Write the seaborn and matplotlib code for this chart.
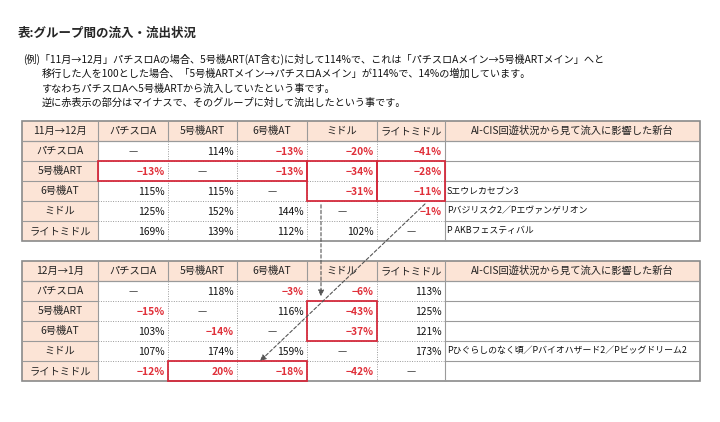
import matplotlib
matplotlib.use("Agg")
import matplotlib.pyplot as plt
import seaborn as sns
from matplotlib.patches import Rectangle

sns.set_theme(style="white")
plt.rcParams["font.family"] = ["Noto Sans CJK JP", "DejaVu Sans"]

title = "表:グループ間の流入・流出状況"
note_lines = [
    "(例)「11月→12月」パチスロAの場合、5号機ART(AT含む)に対して114%で、これは「パチスロAメイン→5号機ARTメイン」へと",
    "移行した人を100とした場合、「5号機ARTメイン→パチスロAメイン」が114%で、14%の増加しています。",
    "すなわちパチスロAへ5号機ARTから流入していたという事です。",
    "逆に赤表示の部分はマイナスで、そのグループに対して流出したという事です。",
]

groups = ["パチスロA", "5号機ART", "6号機AT", "ミドル", "ライトミドル"]
last_header = "AI-CIS回遊状況から見て流入に影響した新台"

period1 = "11月→12月"
values1 = [
    [None, 114, -13, -20, -41],
    [-13, None, -13, -34, -28],
    [115, 115, None, -31, -11],
    [125, 152, 144, None, -1],
    [169, 139, 112, 102, None],
]
machines1 = ["", "", "Sエウレカセブン3", "Pバジリスク2／Pエヴァンゲリオン", "P AKBフェスティバル"]

period2 = "12月→1月"
values2 = [
    [None, 118, -3, -6, 113],
    [-15, None, 116, -43, 125],
    [103, -14, None, -37, 121],
    [107, 174, 159, None, 173],
    [-12, 20, -18, -42, None],
]
machines2 = ["", "", "", "Pひぐらしのなく頃／Pバイオハザード2／Pビッグドリーム2", ""]

# highlight boxes: (row0, row1, col0, col1) inclusive, in body cell indices
boxes1 = [(1, 1, 0, 2), (1, 2, 3, 3), (1, 2, 4, 4)]
boxes2 = [(1, 2, 3, 3), (4, 4, 1, 2)]

col_x = [22, 98, 168, 237, 307, 377, 445, 700]
row_h = 20
peach = "#FCE4D6"
grid = "#9A9A9A"
red = "#E0303A"
box_red = "#D42A3C"

fig = plt.figure(figsize=(7.2, 4.22), dpi=100)
ax = fig.add_axes([0, 0, 1, 1])
ax.set_xlim(0, 720)
ax.set_ylim(422, 0)
ax.axis("off")

ax.text(18, 33, title, fontsize=9, fontweight="bold", va="center", ha="left")
ax.text(23, 59, note_lines[0], fontsize=7.3, va="center", ha="left", color="#111111")
for i, line in enumerate(note_lines[1:]):
    ax.text(42, 74 + i * 14.5, line, fontsize=7.3, va="center", ha="left", color="#111111")


def draw_table(top, period, values, machines, boxes):
    bottom = top + row_h * 6
    left, right = col_x[0], col_x[-1]
    # fills
    ax.add_patch(Rectangle((left, top), right - left, row_h, facecolor=peach, edgecolor="none"))
    ax.add_patch(Rectangle((left, top), col_x[1] - left, row_h * 6, facecolor=peach, edgecolor="none"))
    # horizontal lines
    for r in range(1, 6):
        y = top + r * row_h
        if r == 1:
            ax.hlines(y, left, right, color=grid, lw=0.9)
        else:
            ax.hlines(y, left, col_x[1], color=grid, lw=0.8)
            ax.hlines(y, col_x[1], col_x[6], color=grid, lw=0.7, linestyles=(0, (1, 1.5)))
            ax.hlines(y, col_x[6], right, color=grid, lw=0.8)
    # vertical lines
    for c in range(1, 7):
        x = col_x[c]
        ax.vlines(x, top, top + row_h, color=grid, lw=0.8)
        if c in (1, 6):
            ax.vlines(x, top + row_h, bottom, color=grid, lw=0.8)
        else:
            ax.vlines(x, top + row_h, bottom, color=grid, lw=0.7, linestyles=(0, (1, 1.5)))
    ax.add_patch(Rectangle((left, top), right - left, bottom - top, facecolor="none",
                           edgecolor="#8A8A8A", lw=1.2))

    fs = 7.4
    # header row
    headers = [period] + groups + [last_header]
    for c, h in enumerate(headers):
        cx = (col_x[c] + col_x[c + 1]) / 2
        ax.text(cx, top + row_h / 2, h, fontsize=fs, ha="center", va="center", color="#222222")
    # body
    for r, name in enumerate(groups):
        cy = top + row_h * (r + 1) + row_h / 2 + 1
        ax.text((col_x[0] + col_x[1]) / 2, cy - 1, name, fontsize=fs, ha="center", va="center", color="#222222")
        for c, v in enumerate(values[r]):
            if v is None:
                cx = (col_x[c + 1] + col_x[c + 2]) / 2
                ax.text(cx, cy, "—", fontsize=fs, ha="center", va="center", color="#444444")
            else:
                color = red if v < 100 else "#111111"
                label = (f"−{abs(v)}%" if v < 0 else f"{v}%")
                ax.text(col_x[c + 2] - 3, cy, label, fontsize=fs, ha="right", va="center",
                        color=color, fontweight="bold" if v < 100 else "normal")
        if machines[r]:
            ax.text(col_x[6] + 2, cy - 1, machines[r], fontsize=6.4, ha="left", va="center", color="#111111")
    # highlight boxes
    for r0, r1, c0, c1 in boxes:
        x0, x1 = col_x[c0 + 1], col_x[c1 + 2]
        y0, y1 = top + row_h * (r0 + 1), top + row_h * (r1 + 2)
        ax.add_patch(Rectangle((x0, y0), x1 - x0, y1 - y0, facecolor="none", edgecolor=box_red, lw=1.3, zorder=5))


draw_table(121, period1, values1, machines1, boxes1)
draw_table(261, period2, values2, machines2, boxes2)

# arrows linking the highlighted areas
arrow_style = dict(arrowstyle="-|>", color="#555555", lw=0.8, linestyle=(0, (3, 2)), mutation_scale=9)
ax.annotate("", xy=(321, 299), xytext=(321, 202), arrowprops=arrow_style, zorder=6)
ax.annotate("", xy=(258, 363), xytext=(427, 202), arrowprops=arrow_style, zorder=6)

fig.savefig("out.png", dpi=100, facecolor="white")
